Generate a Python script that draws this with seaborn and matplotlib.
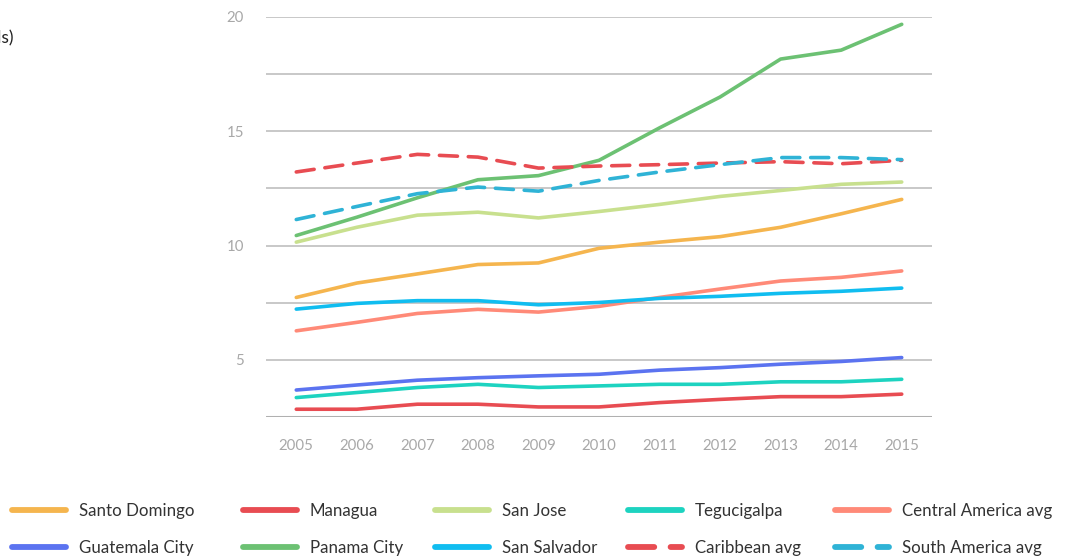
import numpy as np
import pandas as pd
import matplotlib
matplotlib.use("Agg")
import matplotlib.pyplot as plt
import seaborn as sns
from matplotlib.lines import Line2D

years = [2005, 2006, 2007, 2008, 2009, 2010, 2011, 2012, 2013, 2014, 2015]

santo_domingo = [7.73, 8.36, 8.76, 9.17, 9.24, 9.88, 10.15, 10.39, 10.80, 11.39, 12.02]
managua = [2.84, 2.84, 3.06, 3.06, 2.94, 2.94, 3.13, 3.27, 3.39, 3.39, 3.50]
san_jose = [10.15, 10.80, 11.33, 11.46, 11.21, 11.49, 11.80, 12.15, 12.41, 12.68, 12.78]
tegucigalpa = [3.35, 3.57, 3.79, 3.93, 3.79, 3.86, 3.93, 3.93, 4.04, 4.04, 4.15]
central_america_avg = [6.27, 6.64, 7.03, 7.21, 7.09, 7.34, 7.73, 8.10, 8.45, 8.61, 8.89]
guatemala_city = [3.68, 3.90, 4.11, 4.22, 4.30, 4.37, 4.55, 4.66, 4.81, 4.93, 5.10]
panama_city = [10.44, 11.24, 12.09, 12.88, 13.06, 13.73, 15.15, 16.50, 18.16, 18.55, 19.68]
san_salvador = [7.22, 7.47, 7.59, 7.59, 7.41, 7.51, 7.69, 7.78, 7.91, 8.00, 8.14]
caribbean_avg = [13.22, 13.61, 13.99, 13.87, 13.39, 13.48, 13.54, 13.61, 13.67, 13.58, 13.73]
south_america_avg = [11.14, 11.71, 12.27, 12.56, 12.38, 12.85, 13.22, 13.54, 13.85, 13.85, 13.76]

series_names = ["Santo Domingo", "Managua", "San Jose", "Tegucigalpa", "Central America avg",
                "Guatemala City", "Panama City", "San Salvador", "Caribbean avg", "South America avg"]
series_values = [santo_domingo, managua, san_jose, tegucigalpa, central_america_avg,
                 guatemala_city, panama_city, san_salvador, caribbean_avg, south_america_avg]
colors = ["#F5B54E", "#E84C52", "#C8E08E", "#1DD3C0", "#FF8A78",
          "#5B73F0", "#6CC173", "#10BDF0", "#E84C52", "#2FB3D6"]
dashed = [False] * 8 + [True, True]

y_ticks = [2.5, 5, 7.5, 10, 12.5, 15, 17.5, 20]
y_labels = ["", "5", "", "10", "", "15", "", "20"]

sns.set_theme(style="white")
plt.rcParams['font.family'] = ['Lato', 'DejaVu Sans']

fig = plt.figure(figsize=(10.68, 5.59), dpi=100)
ax = fig.add_axes([266 / 1068, 1 - 417 / 559, (932 - 266) / 1068, (417 - 17) / 559])

for name, vals, col, dsh in zip(series_names, series_values, colors, dashed):
    df = pd.DataFrame({"year": years, "value": vals})
    sns.lineplot(data=df, x="year", y="value", ax=ax, color=col, linewidth=2.6,
                 legend=False, zorder=3)
    line = ax.lines[-1]
    line.set_solid_capstyle("round")
    if dsh:
        line.set_dashes([5, 3])
        line.set_dash_capstyle("round")

ax.set_xlim(2004.5, 2015.5)
ax.set_ylim(2.5, 20)
ax.set_xticks(years)
ax.set_xticklabels([str(y) for y in years])
ax.set_yticks(y_ticks)
ax.set_yticklabels(y_labels)
ax.tick_params(axis="both", length=0, labelsize=10.8, labelcolor="#A8A8A8")
ax.tick_params(axis="x", pad=16)
ax.tick_params(axis="y", pad=16)
ax.set_xlabel("")
ax.set_ylabel("")
for yv in y_ticks[1:]:
    ax.axhline(yv, color="#C4C4C4", linewidth=1.3, zorder=1)
ax.axhline(2.5, color="#B0B0B0", linewidth=2.2, zorder=1)
for s in ax.spines.values():
    s.set_visible(False)
ax.grid(False)

fig.text(14 / 1068, 1 - 37 / 559, "Income per capita (US$ thousands)", ha="right", va="center",
         fontsize=12.5, color="#222222")

# legend: 5 columns, 2 rows
col_x = [12, 243, 435, 628, 835]
for c in range(5):
    handles = []
    labels = []
    for r in range(2):
        i = r * 5 + c
        h = Line2D([0], [0], color=colors[i], linewidth=4.2, solid_capstyle="round",
                   dash_capstyle="round")
        if dashed[i]:
            h.set_dashes([4.5, 2.8])
        handles.append(h)
        labels.append(series_names[i])
    leg = fig.legend(handles, labels, loc="upper left",
                     bbox_to_anchor=(col_x[c] / 1068, 1 - 503 / 559),
                     frameon=False, fontsize=12.2, handlelength=3.2, handletextpad=0.75,
                     labelspacing=1.25, borderpad=0, borderaxespad=0)
    for t in leg.get_texts():
        t.set_color("#333333")

fig.savefig("out.png", dpi=100)
